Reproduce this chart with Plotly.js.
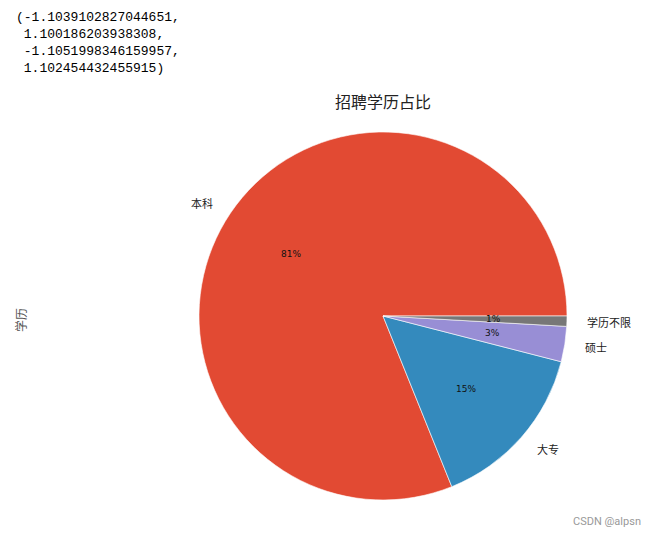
<!DOCTYPE html>
<html>
<head>
<meta charset="utf-8">
<script src="https://cdn.plot.ly/plotly-3.0.1.min.js"></script>
<style>body{margin:0;padding:0;background:#fff;}#chart{width:653px;height:535px;}</style>
</head>
<body>
<div id="chart"></div>
<script>
const categories = ['本科', '大专', '硕士', '学历不限'];
const values = [81.1, 14.9, 3.1, 0.9];
const colors = ['#E24A33', '#348ABD', '#988ED5', '#777777'];
const printedText = ['(-1.1039102827044651,', ' 1.100186203938308,', ' -1.1051998346159957,', ' 1.102454432455915)'];
const chartTitle = '招聘学历占比';
const yLabel = '学历';
const watermark = 'CSDN @alpsn';

const W = 653, H = 535;
const cx = 383, cy = 316, R = 184;
const cjk = '"Noto Sans CJK SC", "DejaVu Sans", sans-serif';

const total = values.reduce((a, b) => a + b, 0);
const annotations = [];
let cum = 0;
values.forEach((v, i) => {
  const a1 = cum / total * 360;
  cum += v;
  const a2 = cum / total * 360;
  const mid = (a1 + a2) / 2 * Math.PI / 180;
  const lx = cx + 1.1 * R * Math.cos(mid), ly = cy - 1.1 * R * Math.sin(mid);
  const px = cx + 0.6 * R * Math.cos(mid), py = cy - 0.6 * R * Math.sin(mid);
  annotations.push({
    xref: 'paper', yref: 'paper', x: lx / W, y: 1 - ly / H,
    xanchor: Math.cos(mid) > 0 ? 'left' : 'right', yanchor: 'middle',
    text: categories[i], showarrow: false,
    font: {family: cjk, size: 11, color: '#222'}
  });
  annotations.push({
    xref: 'paper', yref: 'paper', x: px / W, y: 1 - py / H,
    xanchor: 'center', yanchor: 'middle',
    text: Math.round(v / total * 100) + '%', showarrow: false,
    font: {family: 'DejaVu Sans, sans-serif', size: 9, color: '#111'}
  });
});

annotations.push({
  xref: 'paper', yref: 'paper', x: 14 / W, y: 1 - 8 / H,
  xanchor: 'left', yanchor: 'top', align: 'left',
  text: printedText.map(s => s.replace(/ /g, '&nbsp;')).join('<br>'), showarrow: false,
  font: {family: '"Liberation Mono", monospace', size: 13, color: '#000'}
});
annotations.push({
  xref: 'paper', yref: 'paper', x: cx / W, y: 1 - 101 / H,
  xanchor: 'center', yanchor: 'middle',
  text: chartTitle, showarrow: false,
  font: {family: cjk, size: 16, color: '#222'}
});
annotations.push({
  xref: 'paper', yref: 'paper', x: 20 / W, y: 1 - 320 / H,
  xanchor: 'center', yanchor: 'middle', textangle: -90,
  text: yLabel, showarrow: false,
  font: {family: cjk, size: 12, color: '#555'}
});
annotations.push({
  xref: 'paper', yref: 'paper', x: 643 / W, y: 1 - 521 / H,
  xanchor: 'right', yanchor: 'middle',
  text: watermark, showarrow: false,
  font: {family: 'Roboto, sans-serif', size: 11, color: '#999'}
});

// Plotly counterclockwise: first slice occupies [rotation, rotation + size] clockwise,
// so shift so that the first slice begins at 3 o'clock going counterclockwise.
const rot = 90 - values[0] / total * 360;

const trace = {
  type: 'pie',
  labels: categories,
  values: values,
  sort: false,
  direction: 'counterclockwise',
  rotation: rot,
  textinfo: 'none',
  hoverinfo: 'label+percent',
  marker: {colors: colors, line: {color: '#ffffff', width: 0.6}},
  domain: {x: [(cx - R) / W, (cx + R) / W], y: [1 - (cy + R) / H, 1 - (cy - R) / H]},
  showlegend: false
};

Plotly.newPlot('chart', [trace], {
  width: W, height: H,
  margin: {l: 0, r: 0, t: 0, b: 0},
  paper_bgcolor: '#fff',
  showlegend: false,
  annotations: annotations
}, {displayModeBar: false, staticPlot: true});
</script>
</body>
</html>
